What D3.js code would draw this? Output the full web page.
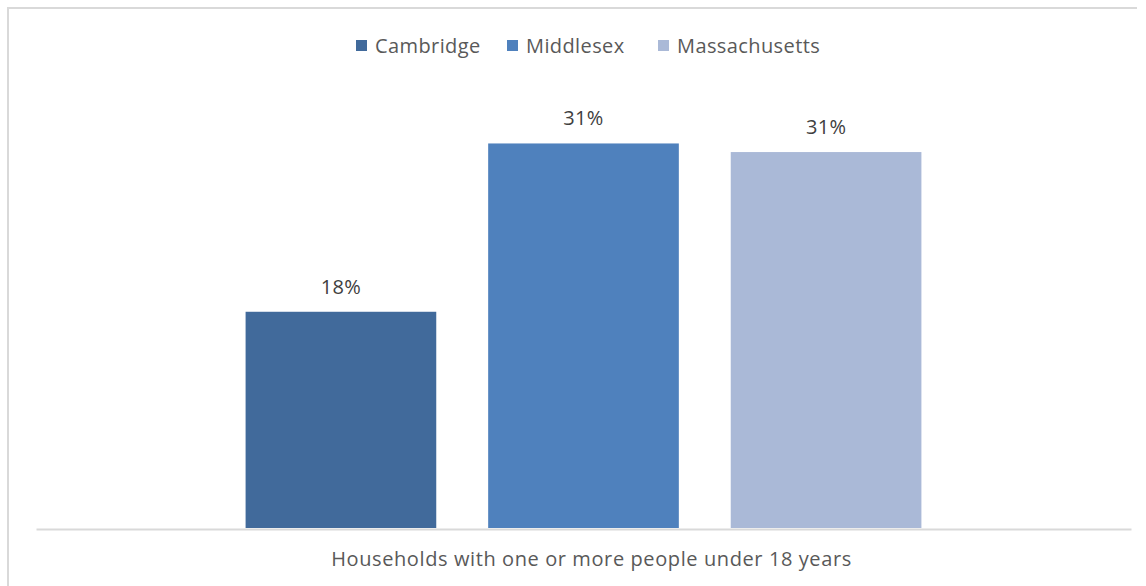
<!DOCTYPE html>
<html>
<head>
<meta charset="utf-8">
<style>
  body { margin: 0; background: #fff; }
  svg text { font-family: "Open Sans", Lato, sans-serif; fill: #595959; }
</style>
</head>
<body>
<svg width="1146" height="586" id="chart"></svg>
<script src="https://cdn.jsdelivr.net/npm/d3@7"></script>
<script>
// data
var categories = ["Households with one or more people under 18 years"];
var series = ["Cambridge", "Middlesex", "Massachusetts"];
var values = [0.176, 0.313, 0.306];
var labels = ["18%", "31%", "31%"];
var colors = ["#416a9b", "#4f81bd", "#aab9d7"];

var svg = d3.select("#chart"),
    margin = {top: 98, right: 15, bottom: 58, left: 36},
    width = +svg.attr("width") - margin.left - margin.right,
    height = +svg.attr("height") - margin.top - margin.bottom;

// outer frame (only top and left show inside the picture)
svg.append("path")
    .attr("d", "M8,600 V8 H1137")
    .attr("fill", "none")
    .attr("stroke", "#d9d9d9")
    .attr("stroke-width", 2);

var g = svg.append("g")
    .attr("transform", "translate(" + margin.left + "," + margin.top + ")");

var x0 = d3.scaleBand().domain(categories).range([0, width]).padding(0);
var x1 = d3.scaleBand().domain(series).range([0, x0.bandwidth()])
    .paddingInner(0.214).paddingOuter(0.864);
var y = d3.scaleLinear().domain([0, 0.35]).range([height, 0]);
var color = d3.scaleOrdinal().domain(series).range(colors);

var rows = series.map(function(s, i) {
  return {cat: categories[0], series: s, value: values[i], label: labels[i]};
});

// bars
g.selectAll(".bar")
  .data(rows)
  .enter().append("rect")
    .attr("class", "bar")
    .attr("x", function(d) { return x0(d.cat) + x1(d.series); })
    .attr("y", function(d) { return y(d.value); })
    .attr("width", x1.bandwidth())
    .attr("height", function(d) { return height - y(d.value); })
    .attr("fill", function(d) { return color(d.series); });

// value labels
g.selectAll(".val")
  .data(rows)
  .enter().append("text")
    .attr("class", "val")
    .attr("x", function(d) { return x0(d.cat) + x1(d.series) + x1.bandwidth() / 2; })
    .attr("y", function(d) { return y(d.value) - 18; })
    .attr("text-anchor", "middle")
    .style("font-size", "20px")
    .style("letter-spacing", "0.3px")
    .style("fill", "#404040")
    .text(function(d) { return d.label; });

// x axis
var xAxis = g.append("g")
    .attr("transform", "translate(0," + (height + 1) + ")")
    .call(d3.axisBottom(x0).tickSize(0).tickPadding(23));
xAxis.select(".domain").attr("stroke", "#d9d9d9").attr("stroke-width", 2);
xAxis.selectAll("text")
    .attr("dx", 8)
    .style("font-size", "20px")
    .style("letter-spacing", "0.6px")
    .style("font-family", "'Open Sans', Lato, sans-serif")
    .attr("fill", "#595959");

// legend
var legendX = [356, 507, 658];
var legend = svg.append("g").selectAll("g")
  .data(series)
  .enter().append("g")
    .attr("transform", function(d, i) { return "translate(" + legendX[i] + ",40)"; });
legend.append("rect")
    .attr("width", 11).attr("height", 11)
    .attr("fill", function(d) { return color(d); });
legend.append("text")
    .attr("x", 19).attr("y", 5.5).attr("dy", "0.35em")
    .style("font-size", "20px")
    .style("letter-spacing", "0.4px")
    .text(function(d) { return d; });
</script>
</body>
</html>
